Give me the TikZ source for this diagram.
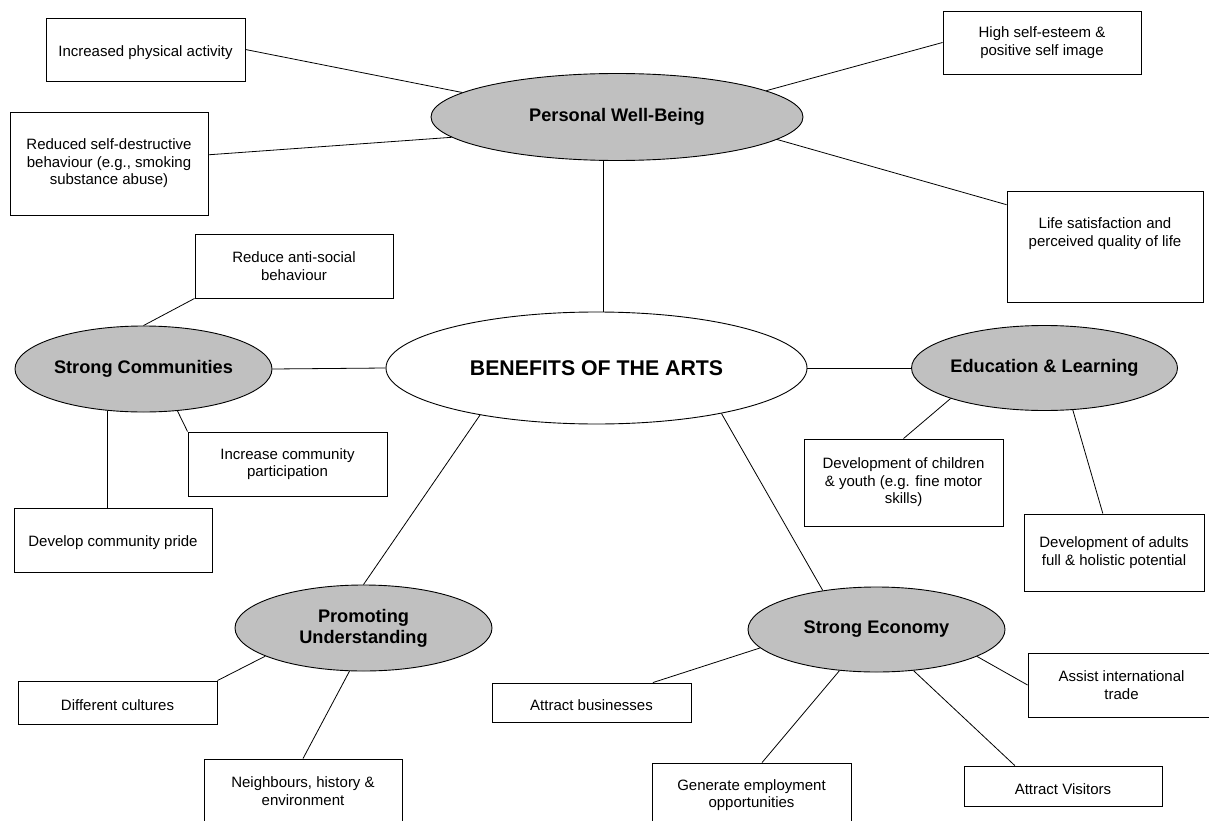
\documentclass[tikz,border=0pt]{standalone}
\usepackage{fontspec}
\setmainfont{Liberation Sans}
\usetikzlibrary{shapes.geometric}

\definecolor{hubgray}{RGB}{192,192,192}

\tikzset{
  hub/.style = {ellipse, draw, fill=hubgray, line width=0.9pt, inner sep=0pt,
                align=center, font=\fontsize{18.2}{21}\selectfont\bfseries},
  leaf/.style = {rectangle, draw, fill=white, line width=0.9pt, inner sep=0pt,
                 align=center, font=\fontsize{15}{17.5}\selectfont,
                 execute at begin node={\rule{0pt}{17pt}}},
  link/.style = {line width=0.8pt},
}

\begin{document}
\begin{tikzpicture}[x=1pt, y=-1pt]
	\clip (0,0) rectangle (1209,821);
	\fill[white] (0,0) rectangle (1209,821);

	% centre and the five themes
	\node[hub, fill=white, minimum width=421, minimum height=112,
	      font=\fontsize{21.3}{25}\selectfont\bfseries] (arts) at (596.5,368) {BENEFITS OF THE ARTS};
	\node[hub, minimum width=372, minimum height=87] (pwb) at (617,117) {Personal Well-Being};
	\node[hub, minimum width=257, minimum height=86] (comm) at (143.5,369) {Strong Communities};
	\node[hub, minimum width=255, minimum height=85] (edu) at (1044.5,368) {Education \& Learning};
	\node[hub, minimum width=257, minimum height=86] (promo) at (363.5,628) {Promoting\\Understanding};
	\node[hub, minimum width=257, minimum height=85] (econ) at (876.5,629.5) {Strong Economy};

	% personal well-being
	\node[leaf, minimum width=199, minimum height=63] (physical) at (145.5,49.5) {Increased physical activity};
	\node[leaf, minimum width=198, minimum height=103] (destruct) at (109,163.5) {Reduced self-destructive\\behaviour (e.g., smoking\\substance abuse)};
	\node[leaf, minimum width=198, minimum height=63] (esteem) at (1042,42.5) {High self-esteem \&\\positive self image};
	\node[leaf, minimum width=196, minimum height=111, text depth=29pt] (satisf) at (1105,246.5) {Life satisfaction and\\perceived quality of life};

	% communities
	\node[leaf, minimum width=198, minimum height=64] (antisoc) at (294,266) {Reduce anti-social\\behaviour};
	\node[leaf, minimum width=199, minimum height=64] (particip) at (287.5,464) {Increase community\\participation};
	\node[leaf, minimum width=198, minimum height=64] (pride) at (113,540) {Develop community pride};

	% education
	\node[leaf, minimum width=199, minimum height=87] (children) at (903.5,482.5) {Development of children\\\& youth (e.g. fine motor\\skills)};
	\node[leaf, minimum width=180, minimum height=77] (adults) at (1114,552.5) {Development of adults\\full \& holistic potential};

	% understanding
	\node[leaf, minimum width=199, minimum height=43] (cultures) at (117.5,702.5) {Different cultures};
	\node[leaf, minimum width=198, minimum height=64] (neighb) at (303,791) {Neighbours, history \&\\environment};

	% economy
	\node[leaf, minimum width=199, minimum height=39] (business) at (591.5,702.5) {Attract businesses};
	\node[leaf, minimum width=199, minimum height=64] (employ) at (751.5,795) {Generate employment\\opportunities};
	\node[leaf, minimum width=187, minimum height=64] (trade) at (1121.5,685) {Assist international\\trade};
	\node[leaf, minimum width=198, minimum height=40] (visitors) at (1063,786) {Attract Visitors};

	% spokes
	\draw[link] (pwb.253) -- (pwb.253 |- arts.north);
	\draw[link] (comm.east) -- (arts.west);
	\draw[link] (arts.east) -- (edu.west);
	\draw[link] (arts.340) -- (econ.144);
	\draw[link] (arts.202) -- (promo.north);

	\draw[link] (physical.east) -- (pwb.171);
	\draw[link] (destruct.5) -- (pwb.187);
	\draw[link] (esteem.west) -- (pwb.10);
	\draw[link] (satisf.157) -- (pwb.352);

	\draw[link] (antisoc.south west) -- (comm.north);
	\draw[link] (particip.north west) -- (comm.309);
	\draw[link] (comm.229) -- (comm.229 |- pride.north);

	\draw[link] (children.north) -- (edu.198);
	\draw[link] (adults.106) -- (edu.304);

	\draw[link] (cultures.north east) -- (promo.196);
	\draw[link] (neighb.north) -- (promo.252);

	\draw[link] (business.18) -- (econ.189);
	\draw[link] (employ.72) -- (econ.228);
	\draw[link] (trade.west) -- (econ.345);
	\draw[link] (visitors.157) -- (econ.312);
\end{tikzpicture}
\end{document}
